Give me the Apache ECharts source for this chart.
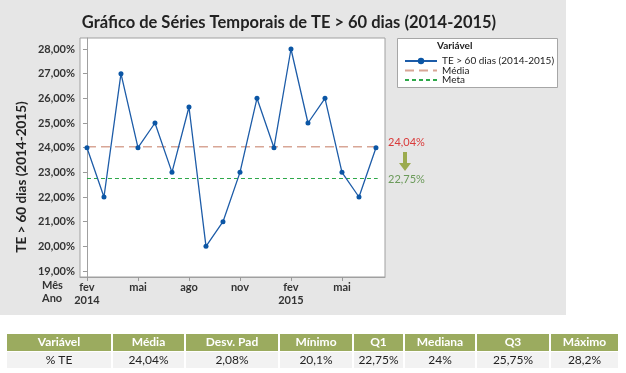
<!DOCTYPE html>
<html>
<head>
<meta charset="utf-8">
<script src="https://cdn.jsdelivr.net/npm/echarts@6/dist/echarts.min.js"></script>
<style>html,body{margin:0;padding:0;background:#fff}#c{width:626px;height:373px}</style>
</head>
<body>
<div id="c"></div>
<script>
// ---- data ----
const months = ['fev','mar','abr','mai','jun','jul','ago','set','out','nov','dez','jan','fev','mar','abr','mai','jun','jul'];
const years = ['2014','','','','','','','','','','','','2015','','','','',''];
const teValues = [24.0, 22.0, 27.0, 24.0, 25.0, 23.0, 25.65, 20.0, 21.0, 23.0, 26.0, 24.0, 28.0, 25.0, 26.0, 23.0, 22.0, 24.0];
const meanValue = 24.04;
const targetValue = 22.75;
const yTicks = [19, 20, 21, 22, 23, 24, 25, 26, 27, 28];
const xTickIdx = [0, 3, 6, 9, 12, 15];
const tableHeaders = ['Variável','Média','Desv. Pad','Mínimo','Q1','Mediana','Q3','Máximo'];
const tableValues = ['% TE','24,04%','2,08%','20,1%','22,75%','24%','25,75%','28,2%'];

const FONT = 'Lato';
const fmtPct = v => v.toFixed(2).replace('.', ',') + '%';
const idx = teValues.map((v, i) => [i, v]);
const lastIdx = teValues.length - 1;

// table layout
const colEdges = [7, 113, 186, 280, 354, 405, 477, 551, 620];
const tableGraphics = [];
tableHeaders.forEach((h, i) => {
  const x0 = colEdges[i], x1 = colEdges[i + 1];
  tableGraphics.push({type:'rect', shape:{x:x0, y:334, width:x1 - x0 - 2, height:17}, style:{fill:'#9bab5f'}, z:1});
  tableGraphics.push({type:'rect', shape:{x:x0, y:352, width:x1 - x0 - 2, height:16}, style:{fill:'#f2f2f2'}, z:1});
  tableGraphics.push({type:'text', x:(x0 + x1 - 2) / 2, y:342.5, style:{text:h, fill:'#fff', font:'bold 12px ' + FONT, align:'center', verticalAlign:'middle'}, z:2});
  tableGraphics.push({type:'text', x:(x0 + x1 - 2) / 2, y:360, style:{text:tableValues[i], fill:'#222', font:'12px ' + FONT, align:'center', verticalAlign:'middle'}, z:2});
});

const chart = echarts.init(document.getElementById('c'), null, {renderer:'canvas'});
chart.setOption({
  animation: false,
  textStyle: {fontFamily: FONT},
  title: {
    text: 'Gráfico de Séries Temporais de TE > 60 dias (2014-2015)',
    left: 284, top: 9, textAlign: 'center',
    textStyle: {fontFamily: FONT, fontSize: 16.5, fontWeight: 'bold', color: '#222'}
  },
  graphic: [
    {type:'rect', shape:{x:0, y:0, width:566, height:315}, style:{fill:'#e6e6e6'}, z:-10, silent:true},
    {type:'rect', shape:{x:397.5, y:38.5, width:160, height:49}, style:{fill:'#fff', stroke:'#a6a6a6', lineWidth:1}, z:0},
    {type:'text', x:437, y:41, style:{text:'Variável', fill:'#222', font:'bold 10px ' + FONT}, z:5},
    {type:'text', x:22, y:177, rotation:Math.PI / 2, style:{text:'TE > 60 dias (2014-2015)', fill:'#222', font:'bold 13.5px ' + FONT, align:'center', verticalAlign:'middle'}, z:5},
    {type:'text', x:42, y:280, style:{text:'Mês', fill:'#333', font:'bold 11px ' + FONT}, z:5},
    {type:'text', x:42, y:293, style:{text:'Ano', fill:'#333', font:'bold 11px ' + FONT}, z:5},
    {type:'text', x:388, y:137, style:{text:fmtPct(meanValue), fill:'#d93a3a', font:'11px ' + FONT}, z:5},
    {type:'text', x:388, y:174, style:{text:fmtPct(targetValue), fill:'#6b9a5a', font:'11px ' + FONT}, z:5},
    {type:'polygon', shape:{points:[[403,152],[407,152],[407,163],[411,163],[405,171],[399,163],[403,163]]}, style:{fill:'#9bab4e'}, z:5}
  ].concat(tableGraphics),
  legend: {
    left: 399, top: 51, orient: 'vertical', itemGap: -0.5, itemWidth: 32, itemHeight: 8,
    textStyle: {fontSize: 10, color: '#222', fontFamily: FONT},
    data: [
      {name: 'TE > 60 dias (2014-2015)'},
      {name: 'Média', itemStyle: {color: 'rgba(0,0,0,0)', borderWidth: 0}},
      {name: 'Meta', itemStyle: {color: 'rgba(0,0,0,0)', borderWidth: 0}}
    ]
  },
  grid: {left: 80, top: 38, width: 305, height: 239, show: true, backgroundColor: '#fff', borderColor: '#a0a0a0', borderWidth: 1},
  xAxis: {
    type: 'value', min: -0.41, max: 17.53,
    splitLine: {show: false},
    axisLine: {show: true, onZero: false, lineStyle: {color: '#a0a0a0'}},
    axisTick: {show: true, length: 4, lineStyle: {color: '#999'}, customValues: xTickIdx},
    axisLabel: {
      customValues: xTickIdx, color: '#333', fontSize: 11, fontWeight: 'bold', margin: 4, lineHeight: 13,
      formatter: v => { const i = Math.round(v); return months[i] + (years[i] ? '\n' + years[i] : '\n '); }
    }
  },
  yAxis: {
    type: 'value', min: 18.757, max: 28.446,
    splitLine: {show: false},
    axisLine: {show: true, lineStyle: {color: '#a0a0a0'}},
    axisTick: {show: true, length: 4, lineStyle: {color: '#999'}, customValues: yTicks},
    axisLabel: {customValues: yTicks, color: '#333', fontSize: 11, fontWeight: 'bold', margin: 5, formatter: v => fmtPct(v)}
  },
  series: [
    {
      name: 'TE > 60 dias (2014-2015)', type: 'line', data: idx,
      symbol: 'circle', symbolSize: 5,
      lineStyle: {color: '#1d5ca8', width: 1.3},
      itemStyle: {color: '#0b56a5'}, z: 5
    },
    {
      name: 'Média', type: 'line', data: [[0, meanValue], [lastIdx + 0.2, meanValue]],
      symbol: 'none', lineStyle: {color: '#d8a696', width: 1.5, type: [9, 5]}, itemStyle: {color: '#d8a696'}, z: 3
    },
    {
      name: 'Meta', type: 'line', data: [[0, targetValue], [lastIdx + 0.1, targetValue]],
      symbol: 'none', lineStyle: {color: '#2ea84a', width: 1, type: [4, 3]}, itemStyle: {color: '#2ea84a'}, z: 3
    }
  ]
});
</script>
</body>
</html>
